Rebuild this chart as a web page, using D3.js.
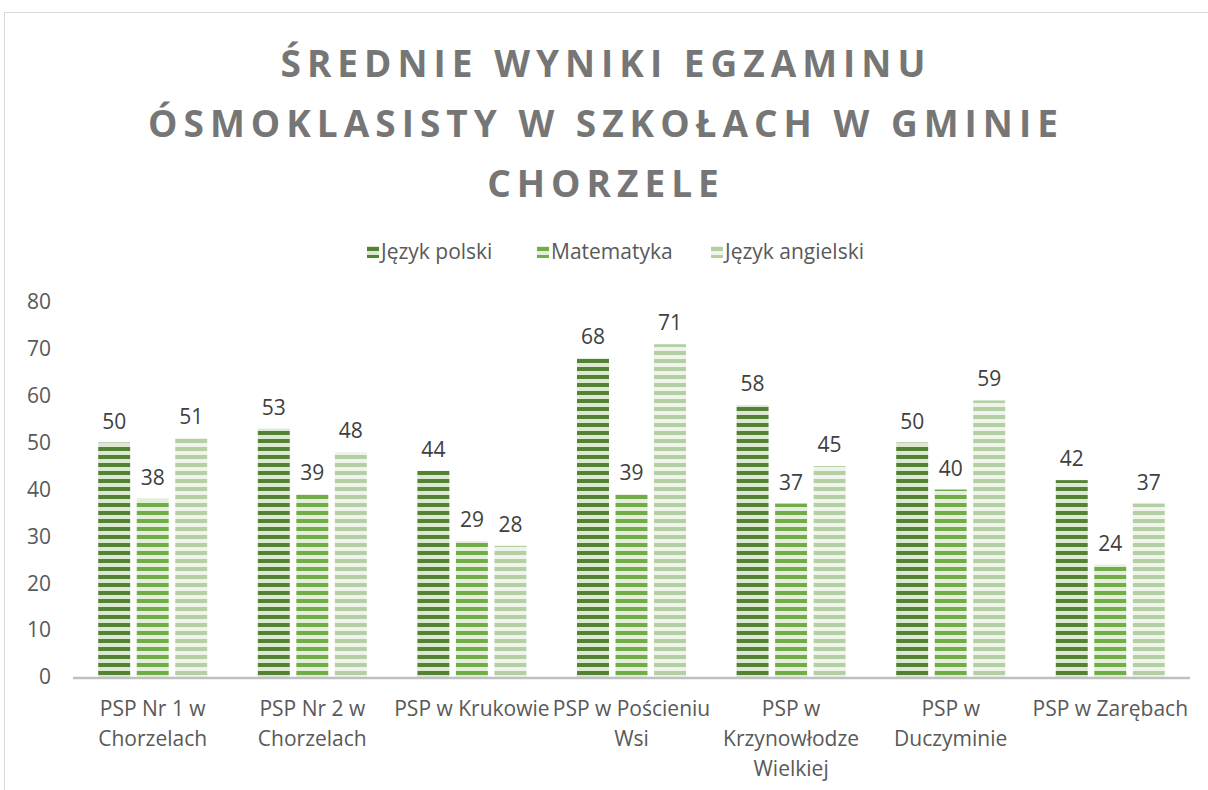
<!DOCTYPE html>
<html>
<head>
<meta charset="utf-8">
<script src="https://cdn.jsdelivr.net/npm/d3@7"></script>
<style>
  body { margin: 0; background: #fff; }
  svg text { font-family: "Open Sans", "Liberation Sans", sans-serif; }
</style>
</head>
<body>
<div id="chart"></div>
<script>
var schools = [
    ["PSP Nr 1 w", "Chorzelach"],
    ["PSP Nr 2 w", "Chorzelach"],
    ["PSP w Krukowie"],
    ["PSP w Pościeniu", "Wsi"],
    ["PSP w", "Krzynowłodze", "Wielkiej"],
    ["PSP w", "Duczyminie"],
    ["PSP w Zarębach"]
];
var seriesNames = ["Język polski", "Matematyka", "Język angielski"];
var polski = [50, 53, 44, 68, 58, 50, 42];
var matematyka = [38, 39, 29, 39, 37, 40, 24];
var angielski = [51, 48, 28, 71, 45, 59, 37];
var yTicks = [0, 10, 20, 30, 40, 50, 60, 70, 80];
var titleLines = ["ŚREDNIE WYNIKI EGZAMINU", "ÓSMOKLASISTY W SZKOŁACH W GMINIE", "CHORZELE"];

var seriesData = [polski, matematyka, angielski];
// stripe colours: [dark band, light band]
var stripes = [["#548235", "#dbe8d2"], ["#70ad47", "#e3efda"], ["#b5cfa4", "#eef4ea"]];

var W = 1208, H = 790;
var margin = {top: 302, right: 18, bottom: 113, left: 73},
    width = W - margin.left - margin.right,
    height = H - margin.top - margin.bottom;

var svg = d3.select("#chart").append("svg")
    .attr("width", W)
    .attr("height", H);

// chart frame
svg.append("rect")
    .attr("x", 4.5).attr("y", 12.5)
    .attr("width", W + 10).attr("height", H)
    .attr("fill", "none")
    .attr("stroke", "#d9d9d9");

var defs = svg.append("defs");
stripes.forEach(function(c, i) {
    var p = defs.append("pattern")
        .attr("id", "stripe" + i)
        .attr("patternUnits", "userSpaceOnUse")
        .attr("width", 8).attr("height", 8)
        .attr("y", margin.top + height);
    p.append("rect").attr("width", 8).attr("height", 8).attr("fill", c[1]);
    p.append("rect").attr("y", 4).attr("width", 8).attr("height", 4).attr("fill", c[0]);
});

// Title
svg.append("g").selectAll("text")
    .data(titleLines)
    .enter().append("text")
    .attr("x", 606)
    .attr("y", function(d, i) { return 77 + i * 60; })
    .attr("text-anchor", "middle")
    .attr("font-size", "37px")
    .attr("font-weight", "bold")
    .attr("letter-spacing", "6px")
    .attr("fill", "#767676")
    .text(function(d) { return d; });

// Legend
var legendX = [367, 537, 711];
var legend = svg.append("g").selectAll("g")
    .data(seriesNames)
    .enter().append("g")
    .attr("transform", function(d, i) { return "translate(" + legendX[i] + ",246)"; });
legend.append("rect")
    .attr("width", 12).attr("height", 12)
    .attr("fill", function(d, i) { return "url(#stripe" + i + ")"; });
legend.append("text")
    .attr("x", 14).attr("y", 13)
    .attr("font-size", "21px")
    .attr("fill", "#595959")
    .text(function(d) { return d; });

var g = svg.append("g")
    .attr("transform", "translate(" + margin.left + "," + margin.top + ")");

var x0 = d3.scaleBand().domain(d3.range(schools.length)).range([0, width]).paddingInner(0.317).paddingOuter(0.158);
var x1 = d3.scaleBand().domain(d3.range(seriesNames.length)).range([0, x0.bandwidth()]).paddingInner(0.17);
var y = d3.scaleLinear().domain([0, 80]).range([height, 0]);

// Y axis labels
g.append("g").selectAll("text")
    .data(yTicks)
    .enter().append("text")
    .attr("x", -22)
    .attr("y", function(d) { return y(d); })
    .attr("dy", "0.35em")
    .attr("text-anchor", "end")
    .attr("font-size", "21px")
    .attr("fill", "#595959")
    .text(function(d) { return d; });

// Bars
var groups = g.append("g").selectAll("g")
    .data(schools)
    .enter().append("g")
    .attr("transform", function(d, i) { return "translate(" + x0(i) + ",0)"; });

groups.selectAll("rect")
    .data(function(d, i) { return seriesData.map(function(s, k) { return {k: k, v: s[i]}; }); })
    .enter().append("rect")
    .attr("x", function(d) { return x1(d.k); })
    .attr("y", function(d) { return y(d.v); })
    .attr("width", x1.bandwidth())
    .attr("height", function(d) { return height - y(d.v); })
    .attr("fill", function(d) { return "url(#stripe" + d.k + ")"; });

groups.selectAll("text.val")
    .data(function(d, i) { return seriesData.map(function(s, k) { return {k: k, v: s[i]}; }); })
    .enter().append("text")
    .attr("class", "val")
    .attr("x", function(d) { return x1(d.k) + x1.bandwidth() / 2; })
    .attr("y", function(d) { return y(d.v) - 14; })
    .attr("text-anchor", "middle")
    .attr("font-size", "21px")
    .attr("fill", "#404040")
    .text(function(d) { return d.v; });

// X axis line
g.append("line")
    .attr("x1", 0).attr("x2", width)
    .attr("y1", height + 1).attr("y2", height + 1)
    .attr("stroke", "#bfbfbf")
    .attr("stroke-width", 2.5);

// X category labels
var xl = g.append("g").selectAll("text")
    .data(schools)
    .enter().append("text")
    .attr("x", function(d, i) { return x0(i) + x0.bandwidth() / 2; })
    .attr("y", height + 39)
    .attr("text-anchor", "middle")
    .attr("font-size", "21px")
    .attr("fill", "#595959");
xl.selectAll("tspan")
    .data(function(d) { return d; })
    .enter().append("tspan")
    .attr("x", function() { return d3.select(this.parentNode).attr("x"); })
    .attr("dy", function(d, i) { return i === 0 ? 0 : 30; })
    .text(function(d) { return d; });
</script>
</body>
</html>
